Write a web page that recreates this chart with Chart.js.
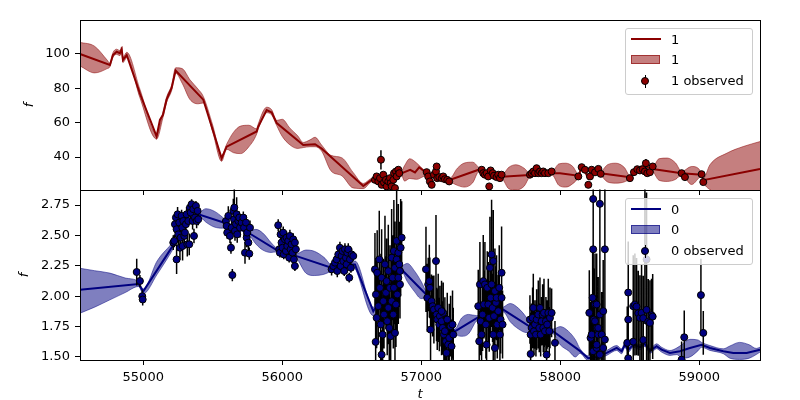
<!DOCTYPE html>
<html>
<head>
<meta charset="utf-8">
<script src="https://cdn.jsdelivr.net/npm/chart.js@4.4.0/dist/chart.umd.min.js"></script>
<style>
body { margin: 0; background: #fff; }
#wrap { position: relative; width: 800px; height: 400px; }
#wrap canvas { position: absolute; left: 0; top: 0; }
.leg { position: absolute; left: 625px; width: 128px; height: 67px; box-sizing: border-box;
       border: 1px solid #cccccc; border-radius: 3px; background: rgba(255,255,255,0.8);
       font: 13px 'DejaVu Sans', sans-serif; color: #000; }
.leg .ln { position: absolute; left: 5px; top: 9px; width: 30px; height: 2px; }
.leg .pt { position: absolute; left: 5px; top: 26px; width: 29px; height: 9px; box-sizing: border-box; }
.leg .bar { position: absolute; left: 19px; top: 46px; width: 1px; height: 13px; background: #000; }
.leg .dot { position: absolute; left: 15px; top: 48px; width: 8px; height: 8px; box-sizing: border-box;
            border: 1px solid #000; border-radius: 50%; }
.leg .tx { position: absolute; left: 45px; line-height: 15px; white-space: nowrap; }
</style>
</head>
<body>
<div id="wrap">
  <canvas id="top" width="800" height="400"></canvas>
  <canvas id="bottom" width="800" height="400"></canvas>
  <div class="leg" style="top:28px">
    <div class="ln" style="background:#8b0000"></div>
    <div class="pt" style="background:rgba(139,0,0,0.5);border:1px solid rgba(139,0,0,0.6)"></div>
    <div class="bar"></div><div class="dot" style="background:#8b0000"></div>
    <div class="tx" style="top:3px">1</div>
    <div class="tx" style="top:23px">1</div>
    <div class="tx" style="top:44px">1 observed</div>
  </div>
  <div class="leg" style="top:198px">
    <div class="ln" style="background:#000080"></div>
    <div class="pt" style="background:rgba(0,0,128,0.5);border:1px solid rgba(0,0,128,0.6)"></div>
    <div class="bar"></div><div class="dot" style="background:#000080"></div>
    <div class="tx" style="top:3px">0</div>
    <div class="tx" style="top:23px">0</div>
    <div class="tx" style="top:44px">0 observed</div>
  </div>
</div>
<script>
// shared time axis
const tMin = 54545, tMax = 59437;
const tTicks = [55000, 56000, 57000, 58000, 59000];
const fTicks1 = [40, 60, 80, 100];
const fTicks0 = [1.5, 1.75, 2.0, 2.25, 2.5, 2.75];

// ---- series "1" (top panel) ----
const meanT1 = [54545, 54760, 54782, 54809, 54832, 54845, 54854, 54881, 54976, 55096,
                55120, 55142, 55168, 55204, 55233, 55432, 55564, 55600, 55816, 55825,
                55888, 55924, 55960, 56151, 56236, 56283, 56583, 56643, 56700, 56760,
                56820, 56857, 56920, 56955, 56985, 57040, 57100, 57150, 57205, 57413,
                57450, 57500, 57580, 57782, 57850, 57940, 57998, 58130, 58154, 58178,
                58202, 58230, 58260, 58290, 58501, 58550, 58620, 58665, 58873, 59017,
                59029, 59437];
const meanF1 = [100, 93.6, 99.4, 101.3, 100.5, 102.7, 96.5, 99.4, 77, 52,
                61.6, 64.6, 73.4, 80.2, 90.4, 73.4, 39.2, 46, 54.9, 57.3,
                67.4, 66, 59.8, 47, 47.5, 45, 23.1, 26.6, 27, 28,
                29, 30.5, 32.5, 31, 34, 30.5, 28.5, 28, 26.6, 32.6,
                30.5, 30, 28.5, 29.5, 30.6, 30.6, 30.6, 29.1, 33.5, 31.8,
                27.9, 30.5, 31.5, 30.6, 28.3, 32.6, 34.5, 33, 30.6, 29.7,
                26.5, 33];

const bandT1 = [54545, 54650, 54740, 54760, 54782, 54809, 54832, 54845, 54854, 54881,
                54976, 55096, 55142, 55168, 55204, 55233, 55280, 55336, 55395, 55432,
                55500, 55564, 55600, 55650, 55700, 55760, 55816, 55825, 55888, 55924,
                55960, 56000, 56055, 56110, 56151, 56200, 56236, 56283, 56350, 56430,
                56510, 56583, 56643, 56700, 56760, 56820, 56857, 56880, 56917, 56967,
                57012, 57040, 57100, 57150, 57205, 57260, 57310, 57370, 57413, 57450,
                57500, 57580, 57630, 57680, 57740, 57782, 57850, 57940, 57990, 58040,
                58090, 58130, 58154, 58178, 58202, 58230, 58260, 58290, 58340, 58400,
                58460, 58501, 58550, 58620, 58665, 58710, 58770, 58830, 58873, 58945,
                59017, 59029, 59077, 59200, 59316, 59437];
const bandLo1 = [93.0, 89.0, 91.5, 92.6, 98.0, 99.8, 99.0, 101.2, 95.0, 97.8,
                 74.5, 50.5, 63.0, 71.8, 78.6, 88.8, 83.0, 73.5, 71.0, 71.5,
                 54.5, 37.5, 44.5, 42.5, 42.0, 46.0, 53.4, 55.8, 65.8, 64.5,
                 58.3, 52.0, 47.1, 45.0, 45.5, 46.0, 46.0, 43.5, 32.0, 29.0,
                 22.0, 21.6, 25.6, 26.0, 27.0, 28.0, 29.5, 26.0, 27.5, 27.0,
                 28.5, 29.5, 27.5, 27.0, 25.6, 23.5, 22.5, 25.0, 31.2, 29.5,
                 29.0, 27.6, 21.5, 20.8, 23.0, 28.5, 29.6, 29.6, 23.5, 22.5,
                 24.5, 28.0, 32.3, 30.6, 26.7, 29.3, 30.3, 29.4, 25.5, 24.8,
                 25.5, 27.3, 31.6, 33.3, 31.8, 26.5, 25.8, 27.0, 29.6, 24.0,
                 28.7, 25.5, 21.0, 17.0, 13.0, 10.0];
const bandHi1 = [106.8, 104.5, 96.5, 94.6, 100.8, 102.8, 102.0, 104.2, 98.0, 101.0,
                 79.5, 53.5, 66.2, 75.0, 81.8, 92.0, 91.5, 85.0, 79.5, 75.3,
                 58.5, 41.0, 47.5, 54.5, 58.0, 58.5, 56.4, 58.8, 69.0, 67.5,
                 61.3, 62.0, 56.8, 52.5, 48.5, 50.0, 51.5, 47.0, 41.0, 39.5,
                 31.0, 24.6, 27.6, 28.0, 29.0, 30.0, 31.5, 35.0, 39.0, 36.5,
                 33.0, 31.5, 29.5, 29.0, 27.6, 33.5, 36.5, 37.0, 34.0, 31.5,
                 31.0, 29.6, 34.0, 35.5, 33.5, 30.5, 31.6, 31.6, 36.0, 36.4,
                 34.5, 30.2, 34.7, 33.0, 29.1, 31.7, 32.7, 31.8, 35.5, 36.4,
                 34.0, 29.3, 33.6, 35.7, 34.2, 39.0, 39.4, 36.5, 31.6, 34.5,
                 30.7, 27.5, 35.5, 42.3, 46.1, 49.0];

const obsT1 = [56667, 56679, 56691, 56703, 56710, 56715, 56727, 56732, 56746, 56751,
               56763, 56775, 56780, 56787, 56799, 56804, 56811, 56818, 56823, 56835, 56842,
               57039, 57050, 57062, 57075, 57091, 57106, 57111, 57115, 57130, 57147, 57158, 57170, 57187, 57201,
               57435, 57446, 57458, 57470, 57482, 57489, 57499, 57514, 57523, 57542, 57554, 57566, 57578,
               57782, 57794, 57806, 57818, 57830, 57842, 57854, 57866, 57878, 57890, 57914, 57938,
               58130, 58154, 58178, 58202, 58214, 58226, 58250, 58274, 58291,
               58501, 58530, 58554, 58573, 58593, 58609, 58616, 58626, 58645, 58665,
               58873, 58897, 59017, 59029];
const obsF1 = [26.7, 28.7, 25.8, 27.7, 38.4, 23.8, 29.7, 25.2, 26.7, 22.9,
               25.8, 27.7, 24.8, 22.9, 26.7, 30.6, 21.9, 31.6, 28.7, 32.6, 30.6,
               31.2, 28.7, 25.8, 23.8, 29.7, 31.6, 34.5, 27.7, 28.3, 27.7, 28.7, 27.1, 26.7, 25.8,
               32.6, 30.6, 29.7, 30.6, 28.7, 22.9, 32.2, 30.6, 29.1, 28.3, 29.7, 27.7, 29.7,
               29.7, 30.6, 31.6, 30.6, 33.5, 30.6, 31.6, 30.6, 31.6, 30.6, 30.6, 31.6,
               28.7, 34.1, 32.6, 23.8, 28.7, 32.6, 31.1, 33.1, 30.2,
               27.7, 31.2, 32.9, 32.2, 32.9, 31.6, 36.4, 30.6, 31.2, 34.5,
               30.6, 28.3, 30.0, 25.4];
const obsE1 = [1.2, 1.0, 1.3, 1.1, 5.6, 1.4, 1.2, 1.3, 1.0, 1.2,
               1.1, 1.3, 1.2, 1.0, 1.1, 1.4, 1.2, 1.3, 1.1, 1.2, 1.3,
               1.3, 1.1, 1.2, 1.0, 1.2, 1.4, 1.3, 1.1, 1.0, 1.2, 1.1, 1.0, 1.2, 1.1,
               1.2, 1.1, 1.0, 1.2, 1.1, 1.5, 1.3, 1.1, 1.0, 1.2, 1.1, 1.0, 1.2,
               1.1, 1.0, 1.2, 1.1, 1.3, 1.0, 1.2, 1.1, 1.0, 1.1, 1.2, 1.0,
               1.2, 1.3, 1.1, 1.4, 1.2, 1.1, 1.0, 1.2, 1.1,
               1.0, 1.2, 1.1, 1.0, 1.2, 1.1, 2.5, 1.2, 1.1, 1.3,
               1.1, 1.2, 1.0, 1.3];

// ---- series "0" (bottom panel) ----
const meanT0 = [54545, 54966, 55000, 55216, 55300, 55409, 55605, 55760, 55960, 56103,
                56364, 56508, 56523, 56655, 56750, 56859, 57039, 57140, 57242, 57399,
                57500, 57590, 57794, 57950, 58141, 58201, 58260, 58334, 58406, 58442,
                58465, 58490, 58525, 58573, 58609, 58645, 58693, 58729, 58789, 58861,
                58933, 59017, 59077, 59173, 59245, 59341, 59437];
const meanF0 = [2.053, 2.10, 2.04, 2.42, 2.58, 2.67, 2.596, 2.52, 2.38, 2.33,
                2.23, 2.26, 2.26, 1.875, 2.05, 2.22, 2.01, 1.85, 1.71, 1.82,
                1.86, 1.89, 1.74, 1.71, 1.55, 1.49, 1.50, 1.533, 1.574, 1.547,
                1.60, 1.56, 1.60, 1.58, 1.607, 1.55, 1.588, 1.56, 1.533, 1.547,
                1.574, 1.60, 1.574, 1.547, 1.533, 1.533, 1.56];

const bandT0 = [54545, 54650, 54760, 54870, 54966, 55000, 55100, 55216, 55300, 55409,
                55450, 55510, 55570, 55605, 55700, 55760, 55810, 55860, 55920, 55960,
                56030, 56103, 56170, 56230, 56300, 56364, 56450, 56508, 56523, 56655,
                56750, 56859, 56900, 56950, 57000, 57039, 57140, 57242, 57290, 57340,
                57399, 57500, 57590, 57640, 57700, 57760, 57794, 57950, 58000, 58060,
                58110, 58141, 58201, 58260, 58334, 58406, 58442, 58465, 58490, 58525,
                58573, 58609, 58645, 58693, 58729, 58789, 58840, 58873, 58933, 58990,
                59017, 59077, 59173, 59220, 59290, 59360, 59410, 59437];
const bandLo0 = [1.86, 1.91, 1.97, 2.03, 2.08, 2.02, 2.18, 2.39, 2.56, 2.65,
                 2.61, 2.57, 2.56, 2.58, 2.54, 2.505, 2.43, 2.38, 2.36, 2.365,
                 2.34, 2.31, 2.19, 2.17, 2.18, 2.21, 2.23, 2.24, 2.23, 1.84,
                 2.03, 2.20, 2.12, 2.04, 1.98, 1.99, 1.83, 1.69, 1.67, 1.69,
                 1.80, 1.84, 1.87, 1.79, 1.73, 1.70, 1.72, 1.69, 1.60, 1.55,
                 1.50, 1.53, 1.47, 1.48, 1.513, 1.554, 1.527, 1.58, 1.54, 1.58,
                 1.56, 1.587, 1.53, 1.568, 1.54, 1.513, 1.52, 1.49, 1.50, 1.55,
                 1.58, 1.554, 1.527, 1.49, 1.48, 1.49, 1.52, 1.54];
const bandHi0 = [2.23, 2.21, 2.19, 2.15, 2.12, 2.06, 2.29, 2.45, 2.60, 2.69,
                 2.72, 2.70, 2.65, 2.61, 2.57, 2.535, 2.55, 2.52, 2.44, 2.395,
                 2.37, 2.35, 2.38, 2.37, 2.32, 2.25, 2.27, 2.28, 2.29, 1.91,
                 2.07, 2.24, 2.27, 2.21, 2.12, 2.03, 1.87, 1.73, 1.82, 1.85,
                 1.84, 1.88, 1.91, 1.94, 1.90, 1.82, 1.76, 1.73, 1.75, 1.71,
                 1.64, 1.57, 1.51, 1.52, 1.553, 1.594, 1.567, 1.62, 1.58, 1.62,
                 1.60, 1.627, 1.57, 1.608, 1.58, 1.553, 1.575, 1.60, 1.645, 1.64,
                 1.62, 1.594, 1.567, 1.59, 1.62, 1.60, 1.57, 1.58];

const obsT0 = [54953, 54976, 54993, 54996,
  55216, 55223, 55228, 55235, 55240, 55240, 55247, 55252, 55259, 55264, 55269, 55276, 55281, 55283, 55288, 55295, 55300,
  55307, 55312, 55317, 55324, 55331, 55336, 55341, 55348, 55355, 55360, 55365, 55372, 55379, 55384, 55391, 55396,
  55595, 55600, 55604, 55612, 55624, 55631, 55636, 55641, 55648, 55653, 55655, 55660, 55667, 55672, 55676, 55684,
  55691, 55696, 55708, 55720, 55725, 55732, 55739, 55744, 55748, 55756, 55763, 55768,
  55971, 55978, 55983, 55988, 55995, 56002, 56007, 56011, 56019, 56026, 56031, 56036, 56043, 56050, 56055, 56060,
  56067, 56074, 56079, 56084, 56091, 56091, 56098,
  56355, 56367, 56379, 56391, 56396, 56403, 56415, 56420, 56427, 56434, 56439, 56446, 56451, 56458, 56463, 56468,
  56475, 56482, 56487, 56494, 56499, 56511,
  56667, 56672, 56674, 56679, 56683, 56691, 56698, 56703, 56708, 56715, 56715, 56722, 56727, 56732, 56739, 56746,
  56751, 56755, 56763, 56763, 56770, 56775, 56780, 56787, 56787, 56794, 56799, 56803, 56803, 56811, 56811, 56818,
  56823, 56823, 56827, 56835, 56835, 56842, 56847, 56847, 56852, 56859,
  57034, 57043, 57050, 57058, 57062, 57067, 57074, 57082, 57091, 57106, 57110, 57115, 57122, 57130, 57134, 57146,
  57154, 57158, 57163, 57170, 57178, 57182, 57194, 57201, 57187, 57211, 57218, 57225, 57230, 57146,
  57410, 57417, 57422, 57427, 57434, 57441, 57446, 57451, 57458, 57465, 57470, 57475, 57482, 57489, 57494, 57499,
  57506, 57506, 57513, 57518, 57518, 57523, 57530, 57530, 57537, 57542, 57547, 57554, 57561, 57566, 57571, 57578,
  57578, 57585,
  57782, 57787, 57787, 57794, 57801, 57806, 57811, 57818, 57825, 57830, 57842, 57849, 57854, 57859, 57866, 57873,
  57878, 57883, 57890, 57897, 57902, 57906, 57914, 57921, 57926, 57938, 57962,
  58209, 58218, 58226, 58233, 58237, 58237, 58237, 58242, 58250, 58250, 58262, 58262, 58262, 58262, 58273, 58273,
  58285, 58285, 58285, 58298, 58309, 58309, 58321, 58321,
  58482, 58489, 58489, 58489, 58525, 58525, 58537, 58549, 58561, 58573, 58585, 58597, 58597, 58609, 58621, 58621,
  58633, 58645, 58657, 58665,
  58873, 58892, 59012, 59029];
const obsF0 = [2.199, 2.125, 2.0, 1.973,
  2.441, 2.455, 2.592, 2.647, 2.551, 2.303, 2.674, 2.509, 2.606, 2.399, 2.482, 2.661, 2.564, 2.413, 2.619, 2.496, 2.523,
  2.592, 2.674, 2.427, 2.619, 2.427, 2.729, 2.688, 2.757, 2.619, 2.716, 2.496, 2.647, 2.743, 2.619, 2.702, 2.633,
  2.619, 2.578, 2.523, 2.661, 2.496, 2.399, 2.564, 2.174, 2.702, 2.633, 2.729, 2.537, 2.592, 2.674, 2.509, 2.619,
  2.647, 2.564, 2.606, 2.647, 2.564, 2.358, 2.606, 2.482, 2.523, 2.441, 2.350, 2.564,
  2.584, 2.386, 2.358, 2.509, 2.441, 2.399, 2.523, 2.344, 2.468, 2.372, 2.482, 2.413, 2.455, 2.317, 2.496, 2.386,
  2.427, 2.358, 2.468, 2.303, 2.441, 2.248, 2.386,
  2.221, 2.248, 2.276, 2.303, 2.207, 2.344, 2.399, 2.248, 2.331, 2.372, 2.289, 2.207, 2.386, 2.317, 2.262, 2.358,
  2.386, 2.152, 2.303, 2.234, 2.344, 2.331,
  2.221, 1.624, 2.014, 1.822, 2.193, 1.918, 2.303, 2.069, 1.767, 2.152, 1.519, 1.684, 1.959, 1.849, 2.262, 2.028,
  2.124, 1.794, 1.904, 2.207, 1.739, 2.069, 1.671, 2.317, 1.959, 2.152, 1.849, 2.372, 2.069, 2.234, 1.698, 1.932,
  2.303, 2.455, 2.014, 2.152, 2.358, 2.262, 2.097, 2.207, 2.399, 2.482,
  2.221, 1.987, 2.097, 2.124, 2.069, 1.725, 1.959, 1.918, 1.890, 2.289, 1.849, 1.808, 1.904, 1.767, 1.836, 1.794,
  1.739, 1.863, 1.684, 1.712, 1.629, 1.533, 1.601, 1.657, 1.808, 1.753, 1.588, 1.767, 1.684, 1.877,
  1.918, 1.629, 2.097, 1.794, 1.684, 1.849, 2.124, 1.932, 2.097, 1.767, 1.601, 2.069, 1.932, 1.822, 2.234, 1.987,
  2.344, 2.097, 1.904, 2.289, 1.684, 1.836, 2.042, 1.574, 1.946, 1.987, 1.767, 1.877, 2.069, 1.684, 1.808, 2.193,
  1.987, 1.767,
  1.808, 1.684, 1.525, 1.739, 1.822, 1.904, 1.712, 1.767, 1.684, 1.808, 1.849, 1.739, 1.904, 1.684, 1.794, 1.849,
  1.739, 1.863, 1.712, 1.794, 1.519, 1.767, 1.863, 1.712, 1.822, 1.863, 1.616,
  1.863, 1.657, 1.684, 1.987, 2.80, 2.386, 1.547, 1.808, 1.932, 1.794, 1.739, 1.574, 1.932, 1.601, 1.684, 1.739,
  2.76, 1.849, 1.519, 1.684, 1.877, 1.574, 2.386, 1.643,
  1.616, 1.808, 2.03, 1.489, 1.918, 1.626, 1.932, 1.915, 1.86, 1.822, 1.863, 1.819, 1.64, 2.372, 2.303, 1.888,
  1.791, 1.781, 1.844, 1.833,
  1.478, 1.662, 2.009, 1.698];
const obsE0 = [0.11, 0.05, 0.05, 0.05,
  0.06, 0.05, 0.07, 0.05, 0.08, 0.12, 0.06, 0.09, 0.06, 0.1, 0.07, 0.05, 0.09, 0.12, 0.06, 0.07, 0.05,
  0.08, 0.06, 0.1, 0.05, 0.09, 0.05, 0.06, 0.04, 0.07, 0.05, 0.06, 0.05, 0.04, 0.06, 0.05, 0.05,
  0.05, 0.06, 0.05, 0.08, 0.06, 0.05, 0.07, 0.05, 0.1, 0.12, 0.17, 0.08, 0.1, 0.14, 0.07, 0.06,
  0.05, 0.08, 0.06, 0.05, 0.07, 0.09, 0.06, 0.08, 0.07, 0.09, 0.05, 0.06,
  0.05, 0.05, 0.04, 0.05, 0.04, 0.05, 0.05, 0.04, 0.05, 0.04, 0.05, 0.04, 0.05, 0.04, 0.05, 0.04,
  0.05, 0.04, 0.05, 0.04, 0.05, 0.04, 0.05,
  0.05, 0.04, 0.05, 0.04, 0.05, 0.04, 0.05, 0.04, 0.05, 0.04, 0.05, 0.04, 0.05, 0.04, 0.05, 0.04,
  0.05, 0.04, 0.05, 0.04, 0.05, 0.04,
  0.3, 0.2, 0.3, 0.25, 0.35, 0.28, 0.4, 0.28, 0.3, 0.4, 0.2, 0.28, 0.35, 0.28, 0.4, 0.3,
  0.35, 0.28, 0.3, 0.38, 0.28, 0.35, 0.28, 0.4, 0.3, 0.35, 0.28, 0.42, 0.3, 0.38, 0.28, 0.35,
  0.4, 0.45, 0.3, 0.38, 0.4, 0.35, 0.28, 0.38, 0.4, 0.3,
  0.35, 0.28, 0.22, 0.3, 0.25, 0.28, 0.22, 0.25, 0.28, 0.38, 0.22, 0.25, 0.28, 0.22, 0.25, 0.28,
  0.22, 0.25, 0.22, 0.28, 0.22, 0.25, 0.22, 0.28, 0.22, 0.25, 0.22, 0.28, 0.22, 0.25,
  0.3, 0.25, 0.35, 0.28, 0.25, 0.3, 0.38, 0.28, 0.35, 0.28, 0.25, 0.3, 0.35, 0.28, 0.42, 0.3,
  0.45, 0.35, 0.28, 0.42, 0.25, 0.28, 0.35, 0.25, 0.3, 0.35, 0.28, 0.3, 0.35, 0.25, 0.28, 0.38,
  0.3, 0.28,
  0.2, 0.18, 0.15, 0.2, 0.25, 0.28, 0.2, 0.2, 0.18, 0.25, 0.28, 0.2, 0.25, 0.18, 0.2, 0.25,
  0.2, 0.28, 0.18, 0.2, 0.15, 0.2, 0.28, 0.2, 0.25, 0.2, 0.18,
  0.35, 0.3, 0.32, 0.42, 0.6, 0.55, 0.3, 0.42, 0.42, 0.35, 0.35, 0.3, 0.42, 0.3, 0.35, 0.42,
  0.65, 0.42, 0.3, 0.35, 0.42, 0.3, 0.55, 0.35,
  0.3, 0.35, 0.42, 0.2, 0.42, 0.3, 0.42, 0.4, 0.35, 0.35, 0.4, 0.35, 0.3, 0.6, 0.55, 0.42,
  0.35, 0.35, 0.3, 0.35,
  0.15, 0.22, 0.3, 0.18];

Chart.defaults.font.family = "'DejaVu Sans', sans-serif";
Chart.defaults.font.size = 13;
Chart.defaults.color = '#000';

function xy(ts, ys) {
    return ts.map((t, i) => ({x: t, y: ys[i]}));
}

// vertical error bars as line segments broken by null points
function errorBars(ts, fs, es) {
    const out = [];
    for (let i = 0; i < ts.length; i++) {
        out.push({x: ts[i], y: fs[i] - es[i]}, {x: ts[i], y: fs[i] + es[i]}, {x: ts[i], y: null});
    }
    return out;
}

function fixedTicks(values) {
    return scale => { scale.ticks = values.map(v => ({value: v})); };
}

// matplotlib style box around the axes
const frame = {
    id: 'frame',
    afterDatasetsDraw(chart) {
        const a = chart.chartArea;
        const ctx = chart.ctx;
        ctx.save();
        ctx.strokeStyle = '#000';
        ctx.lineWidth = 1;
        ctx.strokeRect(a.left + 0.5, a.top + 0.5, a.right - a.left, a.bottom - a.top);
        ctx.restore();
    }
};

function panel(id, p) {
    return new Chart(document.getElementById(id), {
        type: 'line',
        data: {
            datasets: [{
                data: xy(p.bandT, p.bandHi),
                fill: '+1',
                backgroundColor: p.band,
                borderColor: p.band,
                borderWidth: 1,
                pointRadius: 0,
                cubicInterpolationMode: 'monotone',
                clip: 0.5,
                order: 4
            }, {
                data: xy(p.bandT, p.bandLo),
                fill: false,
                borderColor: p.band,
                borderWidth: 1,
                pointRadius: 0,
                cubicInterpolationMode: 'monotone',
                clip: 0.5,
                order: 5
            }, {
                data: xy(p.meanT, p.meanF),
                fill: false,
                borderColor: p.color,
                borderWidth: 2,
                pointRadius: 0,
                clip: 0.5,
                order: 3
            }, {
                data: errorBars(p.obsT, p.obsF, p.obsE),
                fill: false,
                borderColor: '#000',
                borderWidth: 1.5,
                pointRadius: 0,
                spanGaps: false,
                clip: 0.5,
                order: 2
            }, {
                data: xy(p.obsT, p.obsF),
                showLine: false,
                pointRadius: 3.5,
                pointBackgroundColor: p.color,
                pointBorderColor: '#000',
                pointBorderWidth: 1,
                clip: 0.5,
                order: 1
            }]
        },
        options: {
            responsive: false,
            animation: false,
            events: [],
            layout: {padding: {left: 0, right: 40, top: p.top, bottom: 0}},
            plugins: {legend: {display: false}, tooltip: {enabled: false}},
            scales: {
                x: {
                    type: 'linear',
                    min: tMin,
                    max: tMax,
                    afterBuildTicks: fixedTicks(tTicks),
                    ticks: {display: p.showX, padding: 5, maxRotation: 0, autoSkip: false,
                            callback: v => String(v)},
                    grid: {drawOnChartArea: false, drawTicks: true, tickLength: 5, color: '#000'},
                    border: {display: false},
                    title: {display: p.showX, text: 't', font: {style: 'italic'},
                            padding: {top: 0, bottom: -2}},
                    afterFit: s => { s.height = p.xHeight; }
                },
                y: {
                    min: p.yMin,
                    max: p.yMax,
                    afterBuildTicks: fixedTicks(p.yTicks),
                    ticks: {padding: 5, autoSkip: false, callback: p.fmt},
                    grid: {drawOnChartArea: false, drawTicks: true, tickLength: 5, color: '#000'},
                    border: {display: false},
                    title: {display: true, text: 'f', font: {style: 'italic'},
                            padding: {top: p.titlePad, bottom: 0}},
                    afterFit: s => { s.width = 80; }
                }
            }
        },
        plugins: [frame]
    });
}

panel('top', {
    bandT: bandT1, bandLo: bandLo1, bandHi: bandHi1,
    meanT: meanT1, meanF: meanF1,
    obsT: obsT1, obsF: obsF1, obsE: obsE1,
    color: '#8b0000', band: 'rgba(139,0,0,0.5)',
    top: 20, xHeight: 210, showX: false,
    yMin: 20.8, yMax: 119.8, yTicks: fTicks1, fmt: v => String(v), titlePad: 22
});

panel('bottom', {
    bandT: bandT0, bandLo: bandLo0, bandHi: bandHi0,
    meanT: meanT0, meanF: meanF0,
    obsT: obsT0, obsF: obsF0, obsE: obsE0,
    color: '#000080', band: 'rgba(0,0,128,0.5)',
    top: 190, xHeight: 40, showX: true,
    yMin: 1.475, yMax: 2.874, yTicks: fTicks0, fmt: v => v.toFixed(2), titlePad: 17
});
</script>
</body>
</html>
